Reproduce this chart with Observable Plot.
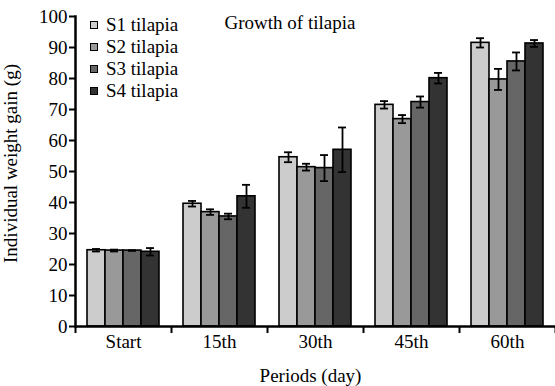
<!DOCTYPE html>
<html><head><meta charset="utf-8">
<script src="https://cdn.jsdelivr.net/npm/d3@7"></script>
<script src="https://cdn.jsdelivr.net/npm/@observablehq/plot@0.6"></script>
<style>
body{margin:0;background:#fff}
#wrap{position:relative;width:555px;height:386px;font-family:"Liberation Serif","Times New Roman",serif}
#legend{position:absolute;left:90px;top:14px;font-size:19px;color:#000}
.row{display:flex;align-items:center;height:22px}
.sw{width:6px;height:6px;border:1.5px solid #000;margin-right:8px}
</style></head><body><div id="wrap"><div id="legend"></div></div>
<script>
const periods = ["Start", "15th", "30th", "45th", "60th"];
const series = ["S1 tilapia", "S2 tilapia", "S3 tilapia", "S4 tilapia"];
const colors = ["#cccccc", "#999999", "#666666", "#333333"];
const s1 = [24.6, 39.6, 54.6, 71.5, 91.5];
const s2 = [24.5, 36.9, 51.4, 66.9, 79.7];
const s3 = [24.5, 35.5, 51.1, 72.4, 85.5];
const s4 = [24.1, 42.0, 57.0, 80.1, 91.3];
const e1 = [0.4, 0.9, 1.6, 1.2, 1.5];
const e2 = [0.3, 0.9, 1.1, 1.3, 3.4];
const e3 = [0.1, 0.9, 4.2, 1.8, 2.9];
const e4 = [1.2, 3.7, 7.2, 1.7, 1.1];
const yTicks = [0, 10, 20, 30, 40, 50, 60, 70, 80, 90, 100];
const title = "Growth of tilapia";
const xLabel = "Periods (day)";
const yLabel = "Individual weight gain (g)";

const means = [s1, s2, s3, s4];
const errs = [e1, e2, e3, e4];
const rows = series.map((s, i) => periods.map((p, j) => ({series: s, period: p, value: means[i][j], err: errs[i][j]})));

// layout (pixels within each 96px band)
const BAND = 96, PAD = 12, BW = 18, CAP = 5;

const marks = [];
rows.forEach((data, i) => {
  marks.push(Plot.barY(data, {x: "period", y: "value", fill: "series",
    insetLeft: PAD + BW * i, insetRight: BAND - PAD - BW * (i + 1),
    stroke: "#000", strokeWidth: 1.6}));
  marks.push(Plot.ruleX(data, {x: "period", y1: d => d.value - d.err, y2: d => d.value + d.err,
    dx: PAD + BW * i + BW / 2 - BAND / 2, stroke: "#000", strokeWidth: 1.8}));
  for (const sign of [-1, 1]) {
    marks.push(Plot.tickY(data, {x: "period", y: d => d.value + sign * d.err,
      insetLeft: PAD + BW * i + CAP, insetRight: BAND - PAD - BW * (i + 1) + CAP,
      stroke: "#000", strokeWidth: 1.8}));
  }
});

const chart = Plot.plot({
  width: 555, height: 386,
  marginLeft: 75, marginRight: 0, marginTop: 16, marginBottom: 60,
  style: {fontFamily: "Liberation Serif, Times New Roman, serif", fontSize: "19px", color: "#000", background: "#fff"},
  x: {domain: periods, padding: 0},
  y: {domain: [0, 100]},
  color: {domain: series, range: colors},
  marks: [
    ...marks,
    Plot.ruleY([0], {stroke: "#000", strokeWidth: 2.5}),
    Plot.frame({anchor: "left", stroke: "#000", strokeWidth: 2.5}),
    Plot.axisY({ticks: yTicks, tickSize: 6, tickPadding: 2, strokeWidth: 2, label: null, fontSize: 19}),
    Plot.axisX({tickSize: 7, dx: BAND / 2, text: null, strokeWidth: 2, label: null}),
    Plot.axisX({ticks: [periods[0]], tickSize: 7, dx: -BAND / 2, text: null, strokeWidth: 2, label: null}),
    Plot.axisX({tickSize: 0, tickPadding: 8, label: null, fontSize: 19}),
    Plot.text([xLabel], {frameAnchor: "bottom", dx: -5, dy: 55, lineAnchor: "bottom", fontSize: 19}),
    Plot.text([yLabel], {frameAnchor: "left", dx: -72, dy: -8, rotate: -90, lineAnchor: "top", textAnchor: "middle", fontSize: 19}),
    Plot.text([title], {frameAnchor: "top-left", dx: 149, dy: 12, textAnchor: "start", lineAnchor: "bottom", fontSize: 19})
  ]
});
const wrap = document.getElementById("wrap");
wrap.insertBefore(chart, wrap.firstChild);

const legend = document.getElementById("legend");
series.forEach((s, i) => {
  const row = document.createElement("div");
  row.className = "row";
  const sw = document.createElement("span");
  sw.className = "sw";
  sw.style.background = colors[i];
  const t = document.createElement("span");
  t.textContent = s;
  row.appendChild(sw); row.appendChild(t);
  legend.appendChild(row);
});
</script></body></html>
